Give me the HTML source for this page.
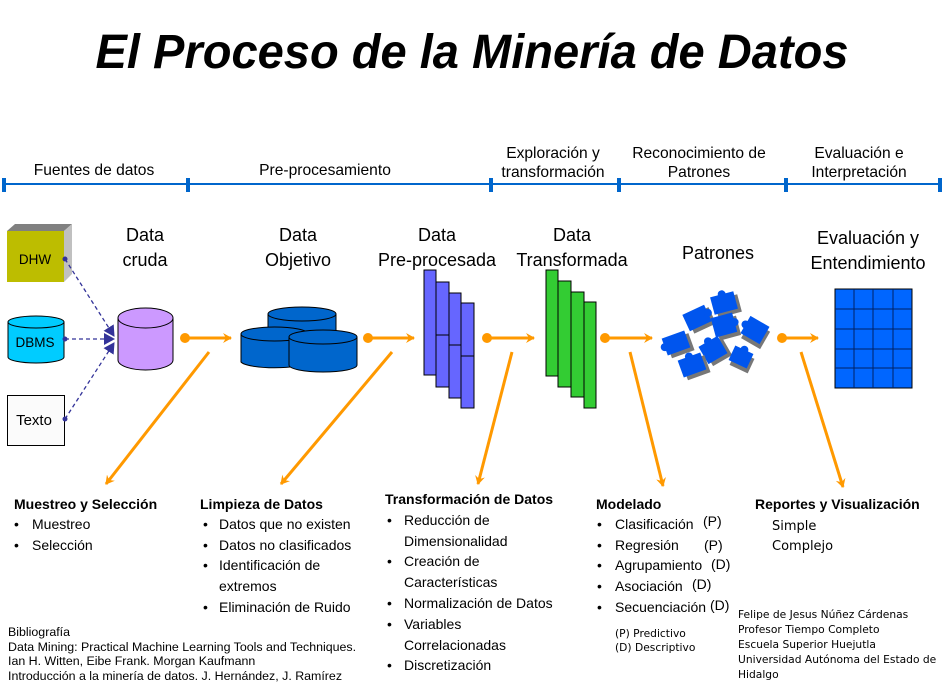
<!DOCTYPE html>
<html><head><meta charset="utf-8"><style>
html,body{margin:0;padding:0;background:#fff;}
svg{display:block;}
text{font-family:"Liberation Sans",sans-serif;fill:#000;}
.d{font-family:"DejaVu Sans",sans-serif;}
</style></head><body>
<svg width="944" height="685" viewBox="0 0 944 685" xmlns="http://www.w3.org/2000/svg">
<defs>
<marker id="oa" markerWidth="10" markerHeight="10" refX="8" refY="5" orient="auto" markerUnits="userSpaceOnUse"><path d="M0,0 L9,5 L0,10 L3,5 Z" fill="#FF9900"/></marker>
<marker id="ba" markerWidth="12" markerHeight="12" refX="10" refY="6" orient="auto" markerUnits="userSpaceOnUse"><path d="M0,0 L11,6 L0,12 Z" fill="#333399"/></marker>
</defs>
<text x="472" y="68" text-anchor="middle" font-size="48" font-weight="bold" font-style="italic" textLength="753" lengthAdjust="spacingAndGlyphs">El Proceso de la Minería de Datos</text>

<!-- timeline -->
<line x1="4" y1="184" x2="940" y2="184" stroke="#0066CC" stroke-width="2"/>
<g fill="#0066CC"><rect x="2" y="178" width="4" height="14"/><rect x="186" y="178" width="4" height="14"/><rect x="489" y="178" width="4" height="14"/><rect x="617" y="178" width="4" height="14"/><rect x="784" y="178" width="4" height="14"/><rect x="938" y="178" width="4" height="14"/></g>
<g font-size="15.6" text-anchor="middle">
<text x="94" y="175">Fuentes de datos</text>
<text x="325" y="175">Pre-procesamiento</text>
<text x="553" y="158">Exploración y</text><text x="553" y="177">transformación</text>
<text x="699" y="158">Reconocimiento de</text><text x="699" y="177">Patrones</text>
<text x="859" y="158">Evaluación e</text><text x="859" y="177">Interpretación</text>
</g>

<!-- stage labels -->
<g font-size="18" text-anchor="middle">
<text x="145" y="241">Data</text><text x="145" y="266">cruda</text>
<text x="298" y="241">Data</text><text x="298" y="266">Objetivo</text>
<text x="437" y="241">Data</text><text x="437" y="266">Pre-procesada</text>
<text x="572" y="241">Data</text><text x="572" y="266">Transformada</text>
<text x="718" y="259">Patrones</text>
<text x="868" y="244">Evaluación y</text><text x="868" y="269">Entendimiento</text>
</g>

<!-- DHW -->
<polygon points="7,231 15,224 72,224 64,231" fill="#808080"/>
<polygon points="64,231 72,224 72,274 64,282" fill="#C0C0C0"/>
<rect x="7" y="231" width="57" height="51" fill="#BDBD00"/>
<text x="35" y="264" font-size="13.5" text-anchor="middle">DHW</text>
<!-- DBMS -->
<path d="M8,322 L8,357 A28,6 0 0 0 64,357 L64,322" fill="#00CCFF" stroke="#000" stroke-width="1"/>
<ellipse cx="36" cy="322" rx="28" ry="6" fill="#00CCFF" stroke="#000" stroke-width="1"/>
<text x="35" y="347" font-size="13.5" text-anchor="middle">DBMS</text>
<!-- Texto -->
<rect x="7.5" y="395.5" width="57" height="50" fill="#fbfbfb" stroke="#000"/>
<text x="34" y="425" font-size="15" text-anchor="middle">Texto</text>
<!-- dashed connectors -->
<g stroke="#333399" stroke-width="1.3" stroke-dasharray="4,3" fill="none">
<line x1="65" y1="259" x2="114" y2="336" marker-end="url(#ba)"/>
<line x1="65" y1="339" x2="114" y2="339" marker-end="url(#ba)"/>
<line x1="65" y1="419" x2="114" y2="343" marker-end="url(#ba)"/>
</g>
<g fill="#333399"><circle cx="65" cy="259" r="2.5"/><circle cx="65" cy="339" r="2.5"/><circle cx="65" cy="419" r="2.5"/></g>

<!-- Data cruda cylinder -->
<path d="M118,318 L118,360 A27.5,10 0 0 0 173,360 L173,318" fill="#CC99FF" stroke="#000"/>
<ellipse cx="145.5" cy="318" rx="27.5" ry="10" fill="#CC99FF" stroke="#000"/>

<!-- Data objetivo cylinders -->
<g fill="#0066CC" stroke="#000">
<path d="M268,314 L268,345 A34,7 0 0 0 336,345 L336,314"/><ellipse cx="302" cy="314" rx="34" ry="7"/>
<path d="M241,334 L241,362 A34,7 0 0 0 308,362 L308,334"/><ellipse cx="274.5" cy="334" rx="33.5" ry="7"/>
<path d="M289,337 L289,365 A34,7 0 0 0 357,365 L357,337"/><ellipse cx="323" cy="337" rx="34" ry="7"/>
</g>

<!-- pre-procesada bars -->
<g fill="#6666FF" stroke="#000" stroke-width="1">
<rect x="424" y="270" width="12" height="105"/>
<rect x="436" y="282" width="13" height="105"/>
<rect x="449" y="293" width="12" height="105"/>
<rect x="461" y="303" width="13" height="105"/>
</g>
<g stroke="#000"><line x1="436" y1="335" x2="449" y2="335"/><line x1="449" y1="345" x2="461" y2="345"/><line x1="461" y1="356" x2="474" y2="356"/></g>

<!-- transformada bars -->
<g fill="#33CC33" stroke="#000" stroke-width="1">
<rect x="546" y="270" width="12" height="106"/>
<rect x="558" y="281" width="13" height="106"/>
<rect x="571" y="292" width="13" height="105"/>
<rect x="584" y="302" width="12" height="106"/>
</g>

<!-- puzzle pieces -->
<g>
<g transform="translate(697,318) rotate(-25)"><rect x="-12" y="-9" width="24" height="18" fill="#777" transform="translate(3,4)"/><rect x="-12" y="-9" width="24" height="18" fill="#0055EE"/><circle cx="12" cy="0" r="4" fill="#0055EE"/></g>
<g transform="translate(724,303) rotate(-15)"><rect x="-12" y="-9" width="24" height="18" fill="#777" transform="translate(3,4)"/><rect x="-12" y="-9" width="24" height="18" fill="#0055EE"/><circle cx="0" cy="-9" r="4" fill="#0055EE"/></g>
<g transform="translate(676,343) rotate(-20)"><rect x="-12" y="-9" width="24" height="18" fill="#777" transform="translate(3,4)"/><rect x="-12" y="-9" width="24" height="18" fill="#0055EE"/><circle cx="-12" cy="0" r="4" fill="#0055EE"/></g>
<g transform="translate(724,325) rotate(-15)"><rect x="-11" y="-10" width="22" height="20" fill="#777" transform="translate(3,4)"/><rect x="-11" y="-10" width="22" height="20" fill="#0055EE"/><circle cx="11" cy="0" r="4" fill="#0055EE"/></g>
<g transform="translate(755,330) rotate(30)"><rect x="-11" y="-10" width="22" height="20" fill="#777" transform="translate(3,4)"/><rect x="-11" y="-10" width="22" height="20" fill="#0055EE"/><circle cx="-11" cy="0" r="4" fill="#0055EE"/></g>
<g transform="translate(713,350) rotate(-30)"><rect x="-11" y="-10" width="22" height="20" fill="#777" transform="translate(3,4)"/><rect x="-11" y="-10" width="22" height="20" fill="#0055EE"/><circle cx="0" cy="-10" r="4" fill="#0055EE"/></g>
<g transform="translate(692,365) rotate(-20)"><rect x="-12" y="-9" width="24" height="18" fill="#777" transform="translate(3,4)"/><rect x="-12" y="-9" width="24" height="18" fill="#0055EE"/><circle cx="0" cy="-9" r="4" fill="#0055EE"/></g>
<g transform="translate(741,357) rotate(25)"><rect x="-10" y="-8" width="20" height="16" fill="#777" transform="translate(3,4)"/><rect x="-10" y="-8" width="20" height="16" fill="#0055EE"/><circle cx="0" cy="-8" r="4" fill="#0055EE"/></g>
</g>

<!-- puzzle grid -->
<rect x="835" y="289" width="77" height="99" fill="#0066FF" stroke="#000"/>
<g stroke="#002266" stroke-width="1" fill="none">
<line x1="854" y1="289" x2="854" y2="388"/><line x1="873" y1="289" x2="873" y2="388"/><line x1="893" y1="289" x2="893" y2="388"/>
<line x1="835" y1="309" x2="912" y2="309"/><line x1="835" y1="329" x2="912" y2="329"/><line x1="835" y1="349" x2="912" y2="349"/><line x1="835" y1="368" x2="912" y2="368"/>
</g>

<!-- orange arrows -->
<g stroke="#FF9900" stroke-width="3" fill="none">
<line x1="185" y1="338" x2="231" y2="338" marker-end="url(#oa)"/>
<line x1="368" y1="338" x2="414" y2="338" marker-end="url(#oa)"/>
<line x1="487" y1="338" x2="534" y2="338" marker-end="url(#oa)"/>
<line x1="605" y1="338" x2="652" y2="338" marker-end="url(#oa)"/>
<line x1="782" y1="338" x2="818" y2="338" marker-end="url(#oa)"/>
<line x1="209" y1="352" x2="106" y2="484" marker-end="url(#oa)"/>
<line x1="392" y1="352" x2="281" y2="484" marker-end="url(#oa)"/>
<line x1="512" y1="352" x2="478" y2="484" marker-end="url(#oa)"/>
<line x1="630" y1="352" x2="663" y2="486" marker-end="url(#oa)"/>
<line x1="801" y1="352" x2="843" y2="487" marker-end="url(#oa)"/>
</g>
<g fill="#FF9900"><circle cx="185" cy="338" r="5"/><circle cx="368" cy="338" r="5"/><circle cx="487" cy="338" r="5"/><circle cx="605" cy="338" r="5"/><circle cx="782" cy="338" r="5"/></g>

<!-- bottom text -->
<g font-size="14">
<text x="14" y="509" font-weight="bold">Muestreo y Selección</text>
<text x="14" y="529">•</text><text x="32" y="529">Muestreo</text>
<text x="14" y="550">•</text><text x="32" y="550">Selección</text>

<text x="200" y="509" font-weight="bold">Limpieza de Datos</text>
<text x="203" y="529">•</text><text x="219" y="529">Datos que no existen</text>
<text x="203" y="550">•</text><text x="219" y="550">Datos no clasificados</text>
<text x="203" y="570">•</text><text x="219" y="570">Identificación de</text>
<text x="219" y="591">extremos</text>
<text x="203" y="612">•</text><text x="219" y="612">Eliminación de Ruido</text>

<text x="385" y="504" font-weight="bold">Transformación de Datos</text>
<text x="387" y="525">•</text><text x="404" y="525">Reducción de</text>
<text x="404" y="546">Dimensionalidad</text>
<text x="387" y="566">•</text><text x="404" y="566">Creación de</text>
<text x="404" y="587">Características</text>
<text x="387" y="608">•</text><text x="404" y="608">Normalización de Datos</text>
<text x="387" y="629">•</text><text x="404" y="629">Variables</text>
<text x="404" y="650">Correlacionadas</text>
<text x="387" y="670">•</text><text x="404" y="670">Discretización</text>

<text x="596" y="509" font-weight="bold">Modelado</text>
<text x="597" y="529">•</text><text x="615" y="529">Clasificación</text><text x="703" y="526">(P)</text>
<text x="597" y="550">•</text><text x="615" y="550">Regresión</text><text x="704" y="550">(P)</text>
<text x="597" y="570">•</text><text x="615" y="570">Agrupamiento</text><text x="711" y="569">(D)</text>
<text x="597" y="591">•</text><text x="615" y="591">Asociación</text><text x="692" y="589">(D)</text>
<text x="597" y="612">•</text><text x="615" y="612">Secuenciación</text><text x="710" y="610">(D)</text>

<text x="755" y="509" font-weight="bold">Reportes y Visualización</text>
</g>
<g class="d" font-size="13">
<text x="772" y="530" class="d">Simple</text>
<text x="772" y="550" class="d">Complejo</text>
</g>
<g font-size="10.7">
<text x="615" y="637" class="d">(P) Predictivo</text>
<text x="615" y="651" class="d">(D) Descriptivo</text>
<text x="738" y="618" class="d">Felipe de Jesus Núñez Cárdenas</text>
<text x="738" y="633" class="d">Profesor Tiempo Completo</text>
<text x="738" y="648" class="d">Escuela Superior Huejutla</text>
<text x="738" y="663" class="d">Universidad Autónoma del Estado de</text>
<text x="738" y="678" class="d">Hidalgo</text>
</g>
<g font-size="12.4">
<text x="8" y="636">Bibliografía</text>
<text x="8" y="651">Data Mining: Practical Machine Learning Tools and Techniques.</text>
<text x="8" y="665">Ian H. Witten, Eibe Frank. Morgan Kaufmann</text>
<text x="8" y="680">Introducción a la minería de datos. J. Hernández, J. Ramírez</text>
</g>
</svg>
</body></html>
